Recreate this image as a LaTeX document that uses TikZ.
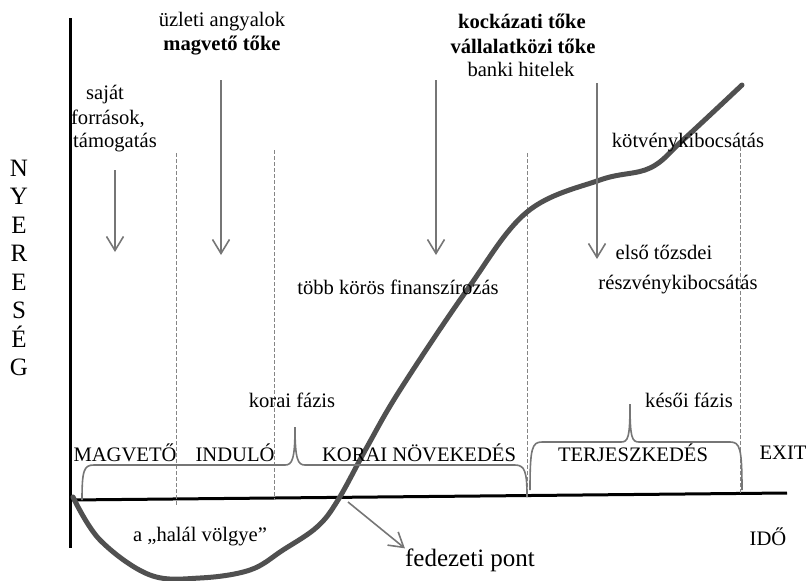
\documentclass[tikz,border=0pt]{standalone}
\usepackage{fontspec}
\setmainfont{Liberation Serif}
\usetikzlibrary{arrows.meta}
\definecolor{curvegray}{HTML}{505050}
\definecolor{arrgray}{HTML}{767676}
\definecolor{dashgray}{HTML}{858585}
\tikzset{
  lbl/.style={inner sep=0pt, font=\fontsize{20.6}{24}\selectfont},
  blbl/.style={lbl, font=\fontsize{20.6}{24}\selectfont\bfseries},
  axisline/.style={line width=3pt, black},
  phase/.style={draw=dashgray, line width=1pt, dash pattern=on 4pt off 2pt},
  flow/.style={draw=arrgray, line width=1.6pt, -{Straight Barb[length=14pt,width=17pt,line width=1.6pt]}},
  bracepath/.style={draw=arrgray, line width=1.6pt},
}
\begin{document}
\begin{tikzpicture}[x=1pt,y=-1pt]
\useasboundingbox (0,0) rectangle (807,581);
% axes
\coordinate (ytop) at (70,18);
\coordinate (ybot) at (70,548);
\coordinate (xl) at (70,500);
\coordinate (xr) at (787,493);
\draw[axisline] (ytop) -- (ybot);
\draw[axisline] (xl) -- (xr);
% dashed phase borders
\coordinate (d1t) at (176,153); \coordinate (d1b) at (176,505);
\coordinate (d2t) at (274,150); \coordinate (d2b) at (274,500);
\coordinate (d3t) at (527,153); \coordinate (d3b) at (527,497);
\coordinate (d4t) at (740,147); \coordinate (d4b) at (740,493);
\draw[phase] (d1t) -- (d1b);
\draw[phase] (d2t) -- (d2b);
\draw[phase] (d3t) -- (d3b);
\draw[phase] (d4t) -- (d4b);
% curve
\draw[curvegray, line width=5pt, line cap=round] plot[smooth, tension=0.6] coordinates {
 (73,497) (100,540) (150,575) (200,578) (250,570) (283,550) (317,527) (338,500)
 (367,447) (400,390) (467,290) (527,212) (600,180) (650,168) (683,140) (742,85)};
% braces
\draw[bracepath] (82,500) .. controls (82,470) and (84,465) .. (94,465) -- (285,465)
  .. controls (292,465) and (295,460) .. (295,427)
  .. controls (295,460) and (298,465) .. (305,465) -- (515,465)
  .. controls (525,465) and (527,472) .. (527,497);
\draw[bracepath] (530,490) .. controls (530,448) and (532,442) .. (542,442) -- (621,442)
  .. controls (628,442) and (630,438) .. (630,404)
  .. controls (630,438) and (632,442) .. (639,442) -- (730,442)
  .. controls (740,442) and (742,448) .. (742,490);
% financing arrows
\coordinate (a1s) at (115,170); \coordinate (a1e) at (115,252);
\coordinate (a2s) at (221,80);  \coordinate (a2e) at (221,255);
\coordinate (a3s) at (436,80);  \coordinate (a3e) at (436,255);
\coordinate (a4s) at (597,83);  \coordinate (a4e) at (597,259);
\draw[flow] (a1s) -- (a1e);
\draw[flow] (a2s) -- (a2e);
\draw[flow] (a3s) -- (a3e);
\draw[flow] (a4s) -- (a4e);
% texts top
\node[lbl] (uzleti) at (222,22) {üzleti angyalok};
\node[blbl] (magveto) at (222,46) {magvető tőke};
\node[lbl] (sajat) at (105,95) {saját};
\node[lbl] (forrasok) at (108,119) {források,};
\node[lbl] (tamogatas) at (115,143) {támogatás};
\node[blbl] (kockazati) at (522,21) {kockázati tőke};
\node[blbl] (vallalat) at (523,46) {vállalatközi tőke};
\node[lbl] (banki) at (521,69) {banki hitelek};
\node[lbl] (kotveny) at (688,143) {kötvénykibocsátás};
\node[lbl] (elso) at (664,252) {első tőzsdei};
\node[lbl] (reszveny) at (678,285) {részvénykibocsátás};
\node[lbl] (tobb) at (398,287) {több körös finanszírozás};
\node[lbl] (korai) at (292,400) {korai fázis};
\node[lbl] (kesoi) at (689,400) {késői fázis};
% phase names
\node[lbl] (p1) at (125,453) {MAGVETŐ};
\node[lbl] (p2) at (235,453) {INDULÓ};
\node[lbl] (p3) at (419,453) {KORAI NÖVEKEDÉS};
\node[lbl] (p4) at (633,453) {TERJESZKEDÉS};
\node[lbl] (p5) at (783,453) {EXIT};
% bottom
\node[lbl] (halal) at (200,537) {a „halál völgye”};
\node[lbl] (ido) at (768,537) {IDŐ};
\node[inner sep=0pt, font=\fontsize{25}{30}\selectfont] (fedezeti) at (470,560) {fedezeti pont};
\coordinate (bep) at (348,502);
\draw[flow, line width=1.6pt] (bep) -- (fedezeti.north west);
% vertical axis label
\node[inner sep=0pt, font=\fontsize{25}{28.5}\selectfont, align=center] (nyereseg) at (19,268)
 {N\\Y\\E\\R\\E\\S\\É\\G};
\end{tikzpicture}
\end{document}
